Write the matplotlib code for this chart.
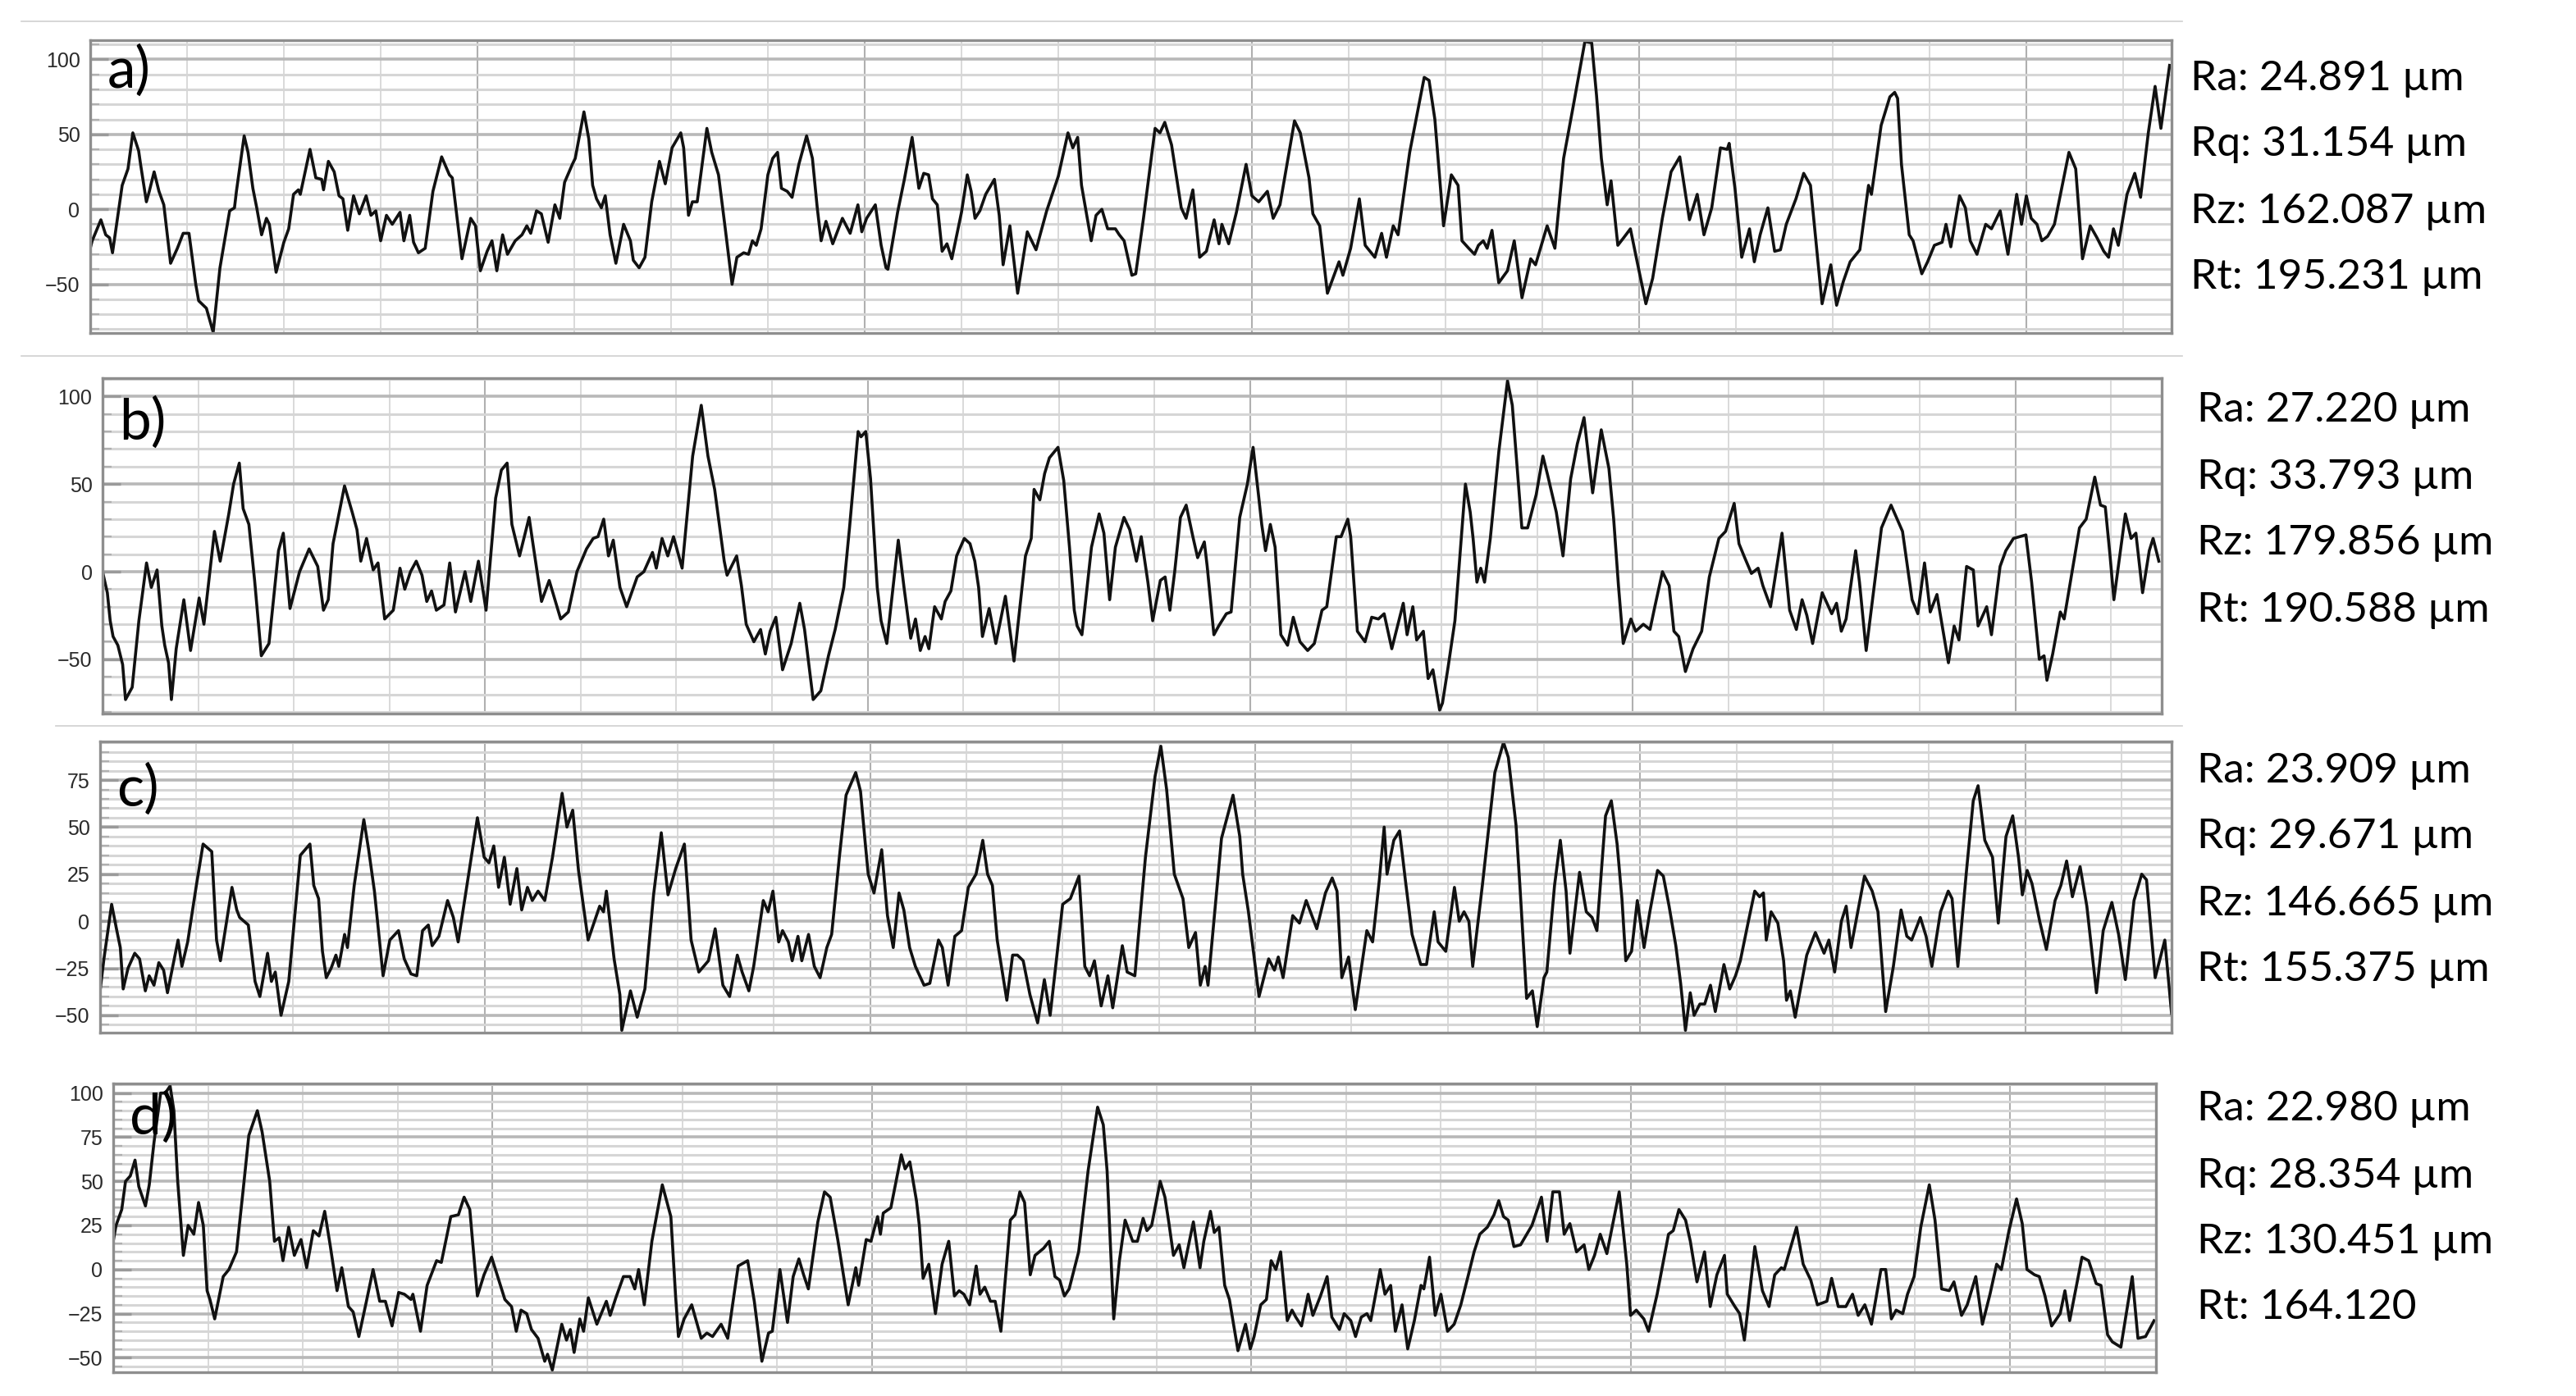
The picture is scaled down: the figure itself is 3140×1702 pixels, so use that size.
import matplotlib
matplotlib.use("Agg")
import matplotlib.pyplot as plt
from matplotlib.lines import Line2D
from matplotlib.ticker import MultipleLocator, NullFormatter

# surface roughness profiles, x in grid divisions, y in micrometres
profile_a = [
    (0.00, -26), (0.02, -21), (0.11, -7), (0.16, -17), (0.20, -19), (0.23, -29), (0.33, 16), (0.39, 27),
    (0.44, 51), (0.50, 39), (0.52, 30), (0.58, 5), (0.61, 12), (0.66, 25), (0.71, 12), (0.76, 3),
    (0.83, -36), (0.90, -26), (0.96, -16), (1.02, -16), (1.09, -50), (1.12, -61), (1.20, -66), (1.27, -82),
    (1.34, -39), (1.44, -1), (1.49, 1), (1.51, 12), (1.59, 49), (1.63, 38), (1.68, 14), (1.72, 1),
    (1.77, -17), (1.82, -6), (1.85, -10), (1.92, -42), (2.00, -22), (2.05, -13), (2.10, 10), (2.15, 13),
    (2.17, 10), (2.27, 40), (2.33, 21), (2.39, 20), (2.41, 13), (2.46, 32), (2.52, 25), (2.57, 9),
    (2.61, 7), (2.66, -14), (2.72, 9), (2.78, -3), (2.85, 9), (2.90, -4), (2.95, -1), (3.00, -21),
    (3.06, -4), (3.12, -10), (3.20, -2), (3.24, -21), (3.30, -4), (3.34, -22), (3.39, -29), (3.46, -26),
    (3.54, 12), (3.63, 35), (3.71, 23), (3.74, 21), (3.84, -33), (3.93, -6), (3.98, -11), (4.03, -41),
    (4.10, -28), (4.15, -21), (4.20, -41), (4.26, -17), (4.31, -30), (4.39, -21), (4.46, -17), (4.51, -11),
    (4.55, -16), (4.61, -1), (4.66, -3), (4.73, -22), (4.80, 3), (4.85, -6), (4.90, 18), (4.98, 30),
    (5.01, 34), (5.10, 65), (5.15, 47), (5.19, 16), (5.23, 7), (5.28, 1), (5.32, 9), (5.37, -17),
    (5.43, -36), (5.51, -10), (5.58, -21), (5.61, -34), (5.67, -39), (5.73, -32), (5.80, 5), (5.88, 32),
    (5.94, 17), (6.01, 41), (6.10, 51), (6.13, 41), (6.18, -4), (6.22, 5), (6.27, 5), (6.37, 54),
    (6.42, 38), (6.49, 23), (6.56, -13), (6.63, -50), (6.68, -32), (6.75, -29), (6.80, -30), (6.84, -21),
    (6.88, -24), (6.93, -13), (7.00, 23), (7.05, 34), (7.10, 38), (7.14, 14), (7.20, 12), (7.25, 8),
    (7.32, 30), (7.40, 49), (7.46, 34), (7.51, 1), (7.55, -21), (7.60, -8), (7.67, -23), (7.77, -6),
    (7.85, -16), (7.93, 3), (7.97, -15), (8.02, -6), (8.11, 3), (8.17, -24), (8.22, -39), (8.24, -40),
    (8.34, -2), (8.41, 20), (8.49, 48), (8.56, 14), (8.61, 24), (8.66, 23), (8.70, 7), (8.75, 3),
    (8.80, -28), (8.85, -23), (8.90, -33), (9.00, -2), (9.06, 23), (9.10, 12), (9.14, -6), (9.19, -1),
    (9.25, 10), (9.34, 20), (9.39, -4), (9.43, -37), (9.50, -11), (9.58, -56), (9.68, -15), (9.77, -27),
    (9.88, -1), (10.00, 22), (10.10, 51), (10.15, 41), (10.20, 48), (10.24, 16), (10.34, -21), (10.39, -4),
    (10.45, 0), (10.51, -13), (10.59, -13), (10.63, -17), (10.68, -21), (10.76, -44), (10.80, -43), (10.88, -6),
    (11.00, 54), (11.05, 51), (11.10, 58), (11.17, 43), (11.27, 1), (11.32, -6), (11.39, 13), (11.46, -32),
    (11.53, -28), (11.61, -7), (11.66, -23), (11.69, -10), (11.76, -23), (11.84, -2), (11.94, 30), (12.00, 9),
    (12.07, 5), (12.16, 12), (12.22, -6), (12.29, 3), (12.44, 59), (12.50, 51), (12.59, 21), (12.63, -3),
    (12.70, -11), (12.78, -56), (12.90, -35), (12.94, -44), (13.02, -26), (13.11, 7), (13.17, -24), (13.27, -32),
    (13.34, -16), (13.39, -32), (13.46, -11), (13.51, -17), (13.63, 38), (13.78, 88), (13.83, 86), (13.89, 60),
    (13.98, -11), (14.06, 23), (14.13, 16), (14.17, -21), (14.24, -26), (14.30, -30), (14.34, -24), (14.39, -21),
    (14.43, -26), (14.48, -14), (14.55, -49), (14.64, -41), (14.71, -21), (14.79, -59), (14.88, -33), (14.93, -37),
    (15.05, -11), (15.13, -26), (15.22, 34), (15.32, 69), (15.39, 94), (15.44, 112), (15.51, 111), (15.56, 76),
    (15.61, 34), (15.67, 3), (15.71, 19), (15.78, -24), (15.84, -19), (15.91, -13), (15.97, -32), (16.07, -63),
    (16.14, -46), (16.24, -6), (16.33, 25), (16.42, 35), (16.52, -7), (16.60, 10), (16.67, -17), (16.75, 1),
    (16.84, 41), (16.91, 40), (16.93, 44), (16.99, 14), (17.06, -32), (17.14, -13), (17.19, -35), (17.25, -17),
    (17.33, 1), (17.40, -28), (17.46, -27), (17.52, -10), (17.62, 7), (17.70, 24), (17.77, 16), (17.89, -63),
    (17.98, -37), (18.04, -64), (18.11, -48), (18.18, -35), (18.28, -27), (18.37, 16), (18.40, 10), (18.50, 56),
    (18.59, 75), (18.64, 78), (18.67, 74), (18.71, 30), (18.79, -17), (18.83, -21), (18.92, -43), (18.98, -35),
    (19.05, -24), (19.13, -22), (19.17, -10), (19.22, -25), (19.31, 9), (19.37, 1), (19.42, -21), (19.49, -30),
    (19.58, -10), (19.64, -13), (19.73, -1), (19.81, -30), (19.90, 10), (19.95, -10), (20.00, 9), (20.05, -6),
    (20.11, -10), (20.16, -21), (20.22, -18), (20.29, -10), (20.44, 38), (20.51, 27), (20.58, -33), (20.66, -11),
    (20.73, -19), (20.80, -28), (20.85, -32), (20.90, -13), (20.95, -24), (21.04, 10), (21.12, 24), (21.18, 8),
    (21.26, 51), (21.33, 82), (21.39, 54), (21.48, 96),
]

profile_b = [
    (0.00, 0), (0.05, -12), (0.08, -28), (0.11, -37), (0.16, -42), (0.21, -53), (0.24, -73), (0.31, -66),
    (0.38, -28), (0.46, 5), (0.51, -9), (0.57, 1), (0.62, -31), (0.65, -42), (0.69, -52), (0.72, -73),
    (0.77, -44), (0.85, -16), (0.92, -45), (1.01, -15), (1.06, -30), (1.17, 23), (1.23, 6), (1.32, 33),
    (1.37, 50), (1.43, 62), (1.47, 36), (1.53, 27), (1.59, -5), (1.66, -48), (1.74, -41), (1.84, 12),
    (1.89, 22), (1.96, -21), (2.06, 0), (2.16, 13), (2.25, 3), (2.31, -22), (2.36, -16), (2.41, 16),
    (2.53, 49), (2.61, 34), (2.66, 24), (2.70, 6), (2.76, 19), (2.83, 1), (2.88, 5), (2.95, -27),
    (3.04, -22), (3.11, 2), (3.16, -10), (3.22, 0), (3.28, 6), (3.34, -2), (3.39, -17), (3.44, -11),
    (3.49, -22), (3.57, -19), (3.63, 5), (3.69, -23), (3.79, 0), (3.85, -17), (3.93, 6), (4.01, -22),
    (4.11, 42), (4.17, 58), (4.23, 62), (4.28, 27), (4.36, 9), (4.46, 31), (4.50, 16), (4.59, -17),
    (4.67, -5), (4.73, -16), (4.79, -27), (4.87, -23), (4.96, 0), (5.06, 13), (5.13, 19), (5.18, 20),
    (5.24, 30), (5.29, 9), (5.34, 18), (5.41, -9), (5.48, -20), (5.59, -3), (5.66, 0), (5.75, 11),
    (5.79, 2), (5.85, 19), (5.91, 9), (5.97, 20), (6.06, 2), (6.17, 66), (6.26, 95), (6.33, 66),
    (6.40, 47), (6.50, 6), (6.53, -2), (6.63, 9), (6.68, -8), (6.73, -30), (6.81, -40), (6.88, -33),
    (6.93, -47), (6.98, -34), (7.04, -26), (7.11, -56), (7.20, -41), (7.29, -18), (7.34, -33), (7.43, -73),
    (7.51, -68), (7.59, -48), (7.66, -33), (7.75, -9), (7.81, 25), (7.90, 80), (7.93, 77), (7.98, 80),
    (8.03, 53), (8.10, -9), (8.14, -28), (8.20, -41), (8.32, 18), (8.38, -9), (8.45, -38), (8.50, -27),
    (8.55, -45), (8.60, -37), (8.64, -44), (8.70, -20), (8.77, -27), (8.81, -17), (8.87, -11), (8.93, 9),
    (9.01, 19), (9.07, 16), (9.12, 6), (9.16, -9), (9.20, -37), (9.27, -21), (9.34, -41), (9.44, -14),
    (9.53, -51), (9.65, 9), (9.71, 19), (9.74, 47), (9.80, 41), (9.85, 56), (9.90, 65), (9.99, 71),
    (10.05, 52), (10.11, 14), (10.16, -22), (10.19, -31), (10.24, -36), (10.34, 14), (10.42, 33), (10.47, 22),
    (10.53, -16), (10.59, 14), (10.68, 31), (10.74, 24), (10.81, 6), (10.86, 20), (10.93, -6), (10.98, -28),
    (11.06, -5), (11.11, -3), (11.16, -22), (11.21, 0), (11.27, 31), (11.33, 38), (11.40, 20), (11.45, 8),
    (11.52, 17), (11.55, 3), (11.62, -36), (11.67, -31), (11.75, -24), (11.80, -23), (11.89, 31), (11.97, 50),
    (12.03, 71), (12.09, 42), (12.12, 27), (12.16, 12), (12.21, 27), (12.26, 14), (12.32, -36), (12.39, -42),
    (12.45, -26), (12.52, -40), (12.60, -45), (12.67, -41), (12.75, -22), (12.80, -20), (12.90, 20), (12.95, 20),
    (13.02, 30), (13.05, 20), (13.12, -34), (13.20, -40), (13.27, -26), (13.34, -27), (13.40, -24), (13.48, -44),
    (13.60, -18), (13.64, -36), (13.70, -20), (13.74, -39), (13.81, -34), (13.86, -61), (13.91, -56), (13.98, -79),
    (14.01, -75), (14.07, -54), (14.14, -28), (14.25, 50), (14.30, 34), (14.33, 19), (14.37, -6), (14.41, 2),
    (14.45, -6), (14.51, 19), (14.60, 69), (14.69, 109), (14.74, 95), (14.80, 53), (14.84, 25), (14.90, 25),
    (14.99, 44), (15.06, 66), (15.11, 55), (15.20, 34), (15.27, 9), (15.35, 53), (15.42, 73), (15.49, 88),
    (15.58, 45), (15.67, 81), (15.75, 59), (15.80, 30), (15.85, -8), (15.90, -41), (15.98, -27), (16.03, -34),
    (16.11, -30), (16.18, -33), (16.23, -20), (16.31, 0), (16.38, -8), (16.43, -34), (16.48, -37), (16.55, -57),
    (16.63, -44), (16.72, -34), (16.80, -3), (16.90, 19), (16.97, 23), (17.06, 39), (17.11, 16), (17.17, 8),
    (17.24, -1), (17.31, 2), (17.36, -8), (17.44, -20), (17.56, 22), (17.64, -22), (17.71, -33), (17.77, -16),
    (17.82, -25), (17.88, -41), (17.98, -12), (18.08, -24), (18.13, -18), (18.18, -34), (18.23, -27), (18.33, 12),
    (18.37, -6), (18.44, -45), (18.60, 25), (18.70, 38), (18.82, 23), (18.92, -16), (18.98, -24), (19.05, 5),
    (19.11, -23), (19.18, -13), (19.30, -52), (19.36, -31), (19.41, -39), (19.49, 3), (19.56, 1), (19.61, -31),
    (19.70, -20), (19.75, -36), (19.84, 3), (19.90, 12), (19.98, 19), (20.11, 21), (20.17, -6), (20.25, -50),
    (20.30, -48), (20.33, -62), (20.39, -47), (20.47, -23), (20.51, -27), (20.59, -1), (20.67, 25), (20.74, 30),
    (20.83, 54), (20.89, 38), (20.94, 37), (20.99, 9), (21.03, -16), (21.15, 33), (21.21, 19), (21.26, 22),
    (21.33, -12), (21.40, 12), (21.44, 19), (21.50, 6),
]

profile_c = [
    (0.00, -37), (0.04, -20), (0.12, 9), (0.17, -4), (0.21, -14), (0.24, -36), (0.29, -25), (0.36, -17),
    (0.41, -20), (0.47, -37), (0.51, -29), (0.56, -34), (0.61, -22), (0.66, -26), (0.70, -38), (0.81, -10),
    (0.85, -24), (0.91, -11), (1.00, 19), (1.07, 41), (1.16, 37), (1.21, -10), (1.25, -21), (1.37, 18),
    (1.42, 6), (1.45, 2), (1.54, -2), (1.61, -32), (1.66, -40), (1.74, -17), (1.78, -32), (1.82, -27),
    (1.88, -50), (1.96, -32), (2.08, 35), (2.18, 41), (2.22, 19), (2.27, 12), (2.31, -16), (2.35, -30),
    (2.40, -25), (2.45, -18), (2.48, -24), (2.54, -7), (2.57, -14), (2.64, 19), (2.74, 54), (2.79, 38),
    (2.85, 16), (2.94, -29), (3.01, -10), (3.10, -5), (3.16, -20), (3.23, -28), (3.29, -29), (3.35, -5),
    (3.41, -2), (3.45, -13), (3.52, -8), (3.61, 11), (3.67, 2), (3.72, -11), (3.79, 12), (3.92, 55),
    (3.99, 34), (4.04, 31), (4.09, 40), (4.14, 18), (4.20, 34), (4.26, 9), (4.33, 28), (4.38, 6),
    (4.44, 18), (4.49, 11), (4.55, 16), (4.62, 11), (4.70, 34), (4.80, 68), (4.85, 50), (4.91, 59),
    (4.97, 27), (5.07, -10), (5.19, 8), (5.23, 5), (5.26, 16), (5.34, -20), (5.40, -39), (5.42, -58),
    (5.51, -37), (5.58, -51), (5.66, -36), (5.75, 14), (5.83, 47), (5.90, 14), (5.98, 28), (6.07, 41),
    (6.14, -10), (6.22, -27), (6.32, -21), (6.39, -4), (6.47, -34), (6.54, -40), (6.62, -18), (6.67, -27),
    (6.74, -37), (6.79, -24), (6.89, 11), (6.94, 5), (6.99, 16), (7.05, -11), (7.09, -5), (7.15, -11),
    (7.19, -21), (7.25, -8), (7.29, -21), (7.36, -7), (7.42, -24), (7.48, -30), (7.55, -14), (7.60, -7),
    (7.68, 34), (7.75, 67), (7.85, 79), (7.90, 69), (7.95, 41), (7.98, 25), (8.04, 15), (8.12, 38),
    (8.18, 3), (8.24, -14), (8.30, 15), (8.35, 6), (8.41, -14), (8.47, -24), (8.56, -34), (8.62, -33),
    (8.71, -10), (8.75, -14), (8.81, -34), (8.88, -8), (8.95, -5), (9.02, 18), (9.10, 25), (9.17, 43),
    (9.22, 25), (9.27, 19), (9.32, -10), (9.42, -42), (9.48, -18), (9.53, -18), (9.59, -21), (9.66, -39),
    (9.74, -54), (9.81, -31), (9.87, -50), (10.00, 9), (10.08, 12), (10.17, 24), (10.23, -24), (10.28, -29),
    (10.33, -21), (10.40, -45), (10.47, -29), (10.52, -46), (10.62, -13), (10.67, -27), (10.75, -29), (10.86, 34),
    (10.96, 77), (11.02, 93), (11.08, 70), (11.16, 25), (11.25, 12), (11.31, -14), (11.38, -6), (11.43, -34),
    (11.48, -24), (11.51, -34), (11.65, 44), (11.77, 67), (11.84, 45), (11.87, 25), (11.93, 5), (12.04, -40),
    (12.14, -20), (12.20, -26), (12.24, -19), (12.29, -30), (12.39, 3), (12.46, -1), (12.53, 11), (12.64, -4),
    (12.73, 15), (12.80, 23), (12.85, 16), (12.90, -30), (12.97, -19), (13.04, -47), (13.16, -5), (13.22, -11),
    (13.29, 22), (13.34, 50), (13.37, 25), (13.44, 43), (13.50, 48), (13.56, 22), (13.63, -7), (13.72, -23),
    (13.78, -23), (13.86, 5), (13.90, -11), (13.98, -16), (14.07, 18), (14.12, 0), (14.17, 5), (14.22, 0),
    (14.26, -24), (14.36, 19), (14.49, 79), (14.58, 95), (14.63, 87), (14.71, 51), (14.75, 19), (14.82, -41),
    (14.88, -37), (14.93, -56), (15.00, -30), (15.03, -27), (15.11, 19), (15.17, 43), (15.23, 16), (15.27, -17),
    (15.37, 26), (15.44, 5), (15.50, 2), (15.55, -5), (15.64, 56), (15.70, 64), (15.76, 41), (15.81, 12),
    (15.85, -21), (15.91, -16), (15.97, 11), (16.04, -14), (16.10, 5), (16.18, 27), (16.24, 24), (16.30, 8),
    (16.37, -13), (16.42, -33), (16.47, -58), (16.52, -38), (16.56, -50), (16.62, -44), (16.67, -44), (16.73, -34),
    (16.78, -48), (16.87, -23), (16.93, -36), (16.99, -29), (17.04, -21), (17.12, -1), (17.19, 16), (17.24, 13),
    (17.28, 15), (17.31, -10), (17.36, 5), (17.43, -1), (17.49, -21), (17.52, -42), (17.56, -37), (17.61, -51),
    (17.73, -18), (17.82, -6), (17.91, -17), (17.96, -10), (18.02, -27), (18.09, 0), (18.14, 8), (18.19, -14),
    (18.26, 5), (18.33, 24), (18.41, 16), (18.47, 5), (18.55, -48), (18.63, -24), (18.71, 6), (18.77, -8),
    (18.82, -10), (18.91, 2), (18.97, -8), (19.03, -24), (19.12, 5), (19.20, 16), (19.24, 12), (19.30, -24),
    (19.39, 27), (19.46, 64), (19.51, 72), (19.58, 43), (19.66, 34), (19.72, -1), (19.80, 45), (19.87, 56),
    (19.93, 34), (19.97, 14), (20.02, 27), (20.07, 20), (20.15, 0), (20.22, -15), (20.31, 11), (20.37, 19),
    (20.43, 32), (20.49, 13), (20.57, 29), (20.64, 8), (20.74, -38), (20.81, -5), (20.90, 10), (20.97, -7),
    (21.04, -31), (21.13, 11), (21.21, 25), (21.26, 22), (21.35, -30), (21.45, -10), (21.52, -49),
]

profile_d = [
    (0.00, 16), (0.03, 25), (0.09, 34), (0.13, 50), (0.18, 53), (0.23, 62), (0.27, 47), (0.34, 36),
    (0.38, 48), (0.43, 72), (0.50, 100), (0.55, 100), (0.60, 104), (0.64, 90), (0.68, 50), (0.74, 8),
    (0.79, 25), (0.85, 20), (0.90, 38), (0.95, 25), (0.99, -12), (1.02, -17), (1.07, -28), (1.16, -4),
    (1.22, 0), (1.30, 10), (1.37, 45), (1.43, 76), (1.52, 90), (1.57, 78), (1.65, 50), (1.70, 16),
    (1.75, 18), (1.79, 5), (1.85, 24), (1.91, 8), (1.98, 17), (2.04, 1), (2.11, 22), (2.17, 19),
    (2.23, 33), (2.29, 13), (2.36, -12), (2.41, 1), (2.48, -21), (2.53, -24), (2.59, -38), (2.67, -18),
    (2.74, 0), (2.81, -18), (2.87, -18), (2.94, -32), (3.01, -13), (3.07, -14), (3.14, -17), (3.16, -14),
    (3.24, -35), (3.31, -9), (3.41, 5), (3.46, 4), (3.56, 30), (3.64, 31), (3.70, 41), (3.76, 34),
    (3.84, -15), (3.91, -3), (3.99, 7), (4.06, -5), (4.13, -17), (4.20, -21), (4.25, -35), (4.30, -23),
    (4.36, -25), (4.41, -34), (4.48, -39), (4.55, -52), (4.58, -48), (4.63, -57), (4.73, -31), (4.78, -40),
    (4.82, -34), (4.86, -47), (4.92, -28), (4.96, -35), (5.01, -16), (5.10, -31), (5.20, -18), (5.24, -26),
    (5.30, -16), (5.38, -4), (5.45, -4), (5.50, -11), (5.54, 0), (5.60, -20), (5.68, 16), (5.79, 48),
    (5.88, 30), (5.93, -15), (5.96, -38), (6.02, -28), (6.10, -20), (6.20, -39), (6.26, -36), (6.32, -38),
    (6.41, -31), (6.48, -39), (6.59, 2), (6.69, 5), (6.76, -18), (6.84, -52), (6.91, -36), (6.95, -35),
    (7.03, 0), (7.11, -30), (7.17, -4), (7.23, 6), (7.28, -3), (7.33, -11), (7.43, 27), (7.50, 44),
    (7.56, 41), (7.64, 17), (7.75, -20), (7.83, 1), (7.86, -9), (7.94, 17), (7.99, 16), (8.06, 30),
    (8.09, 20), (8.12, 32), (8.20, 35), (8.31, 65), (8.35, 57), (8.40, 61), (8.47, 39), (8.50, 25),
    (8.54, -5), (8.60, 3), (8.67, -25), (8.74, 3), (8.81, 16), (8.87, -15), (8.92, -12), (8.97, -14),
    (9.03, -20), (9.10, 2), (9.14, -14), (9.19, -10), (9.25, -18), (9.30, -18), (9.36, -35), (9.46, 28),
    (9.51, 31), (9.56, 44), (9.61, 38), (9.67, -3), (9.72, 8), (9.81, 12), (9.87, 16), (9.93, -4),
    (9.98, -6), (10.03, -15), (10.08, -11), (10.18, 10), (10.28, 56), (10.38, 92), (10.44, 82), (10.48, 56),
    (10.55, -28), (10.61, 5), (10.67, 28), (10.75, 16), (10.80, 16), (10.86, 29), (10.90, 22), (10.95, 25),
    (11.04, 50), (11.09, 41), (11.13, 27), (11.18, 8), (11.24, 14), (11.29, 1), (11.39, 27), (11.46, 1),
    (11.50, 16), (11.57, 33), (11.61, 21), (11.66, 24), (11.72, -9), (11.77, -17), (11.86, -46), (11.94, -31),
    (11.99, -45), (12.03, -38), (12.10, -20), (12.16, -17), (12.21, 5), (12.26, 0), (12.31, 10), (12.38, -29),
    (12.43, -23), (12.47, -27), (12.53, -32), (12.60, -14), (12.65, -26), (12.73, -15), (12.80, -4), (12.85, -27),
    (12.93, -34), (12.98, -25), (13.05, -29), (13.10, -38), (13.16, -27), (13.22, -25), (13.26, -29), (13.36, 0),
    (13.41, -14), (13.47, -9), (13.52, -35), (13.59, -20), (13.65, -45), (13.72, -29), (13.79, -9), (13.82, -11),
    (13.88, 7), (13.94, -26), (14.00, -14), (14.07, -35), (14.14, -31), (14.21, -20), (14.29, -3), (14.35, 10),
    (14.41, 20), (14.49, 24), (14.56, 31), (14.61, 39), (14.66, 30), (14.71, 28), (14.77, 13), (14.84, 14),
    (14.96, 25), (15.06, 41), (15.12, 16), (15.18, 44), (15.25, 44), (15.30, 20), (15.36, 26), (15.43, 10),
    (15.51, 14), (15.56, 0), (15.62, 8), (15.68, 20), (15.75, 9), (15.88, 44), (15.96, 3), (16.00, -26),
    (16.06, -23), (16.14, -28), (16.19, -35), (16.28, -14), (16.40, 20), (16.45, 22), (16.51, 34), (16.58, 28),
    (16.63, 16), (16.70, -7), (16.78, 10), (16.84, -21), (16.91, -3), (16.99, 8), (17.02, -14), (17.10, -21),
    (17.15, -25), (17.20, -40), (17.31, 13), (17.39, -12), (17.46, -21), (17.52, -3), (17.59, 1), (17.62, 0),
    (17.75, 24), (17.82, 3), (17.90, -6), (17.97, -20), (18.07, -18), (18.12, -5), (18.19, -21), (18.27, -21),
    (18.34, -14), (18.40, -26), (18.47, -20), (18.54, -31), (18.64, 0), (18.69, 0), (18.75, -28), (18.80, -23),
    (18.87, -25), (18.92, -14), (18.99, -4), (19.06, 24), (19.15, 48), (19.21, 28), (19.28, -11), (19.36, -12),
    (19.41, -7), (19.49, -26), (19.55, -20), (19.64, -4), (19.71, -31), (19.79, -14), (19.86, 3), (19.91, 0),
    (19.99, 22), (20.07, 40), (20.13, 26), (20.18, 0), (20.26, -3), (20.31, -4), (20.37, -15), (20.44, -32),
    (20.53, -25), (20.58, -12), (20.63, -29), (20.76, 7), (20.83, 5), (20.91, -8), (20.96, -9), (21.03, -37),
    (21.08, -41), (21.17, -44), (21.29, -4), (21.35, -39), (21.43, -38), (21.48, -33), (21.52, -29),
]

panel_labels = ["a)", "b)", "c)", "d)"]

stats_a = ["Ra: 24.891 µm", "Rq: 31.154 µm", "Rz: 162.087 µm", "Rt: 195.231 µm"]
stats_b = ["Ra: 27.220 µm", "Rq: 33.793 µm", "Rz: 179.856 µm", "Rt: 190.588 µm"]
stats_c = ["Ra: 23.909 µm", "Rq: 29.671 µm", "Rz: 146.665 µm", "Rt: 155.375 µm"]
stats_d = ["Ra: 22.980 µm", "Rq: 28.354 µm", "Rz: 130.451 µm", "Rt: 164.120"]

# axis ranges
y_limits = [(-82.5, 112.8), (-81, 110.5), (-59.2, 95.5), (-58.2, 105.4)]
x_limits = [21.50, 21.53, 21.52, 21.54]
y_major = [50, 50, 25, 25]
y_minor = [10, 10, 5, 5]

W, H = 3140, 1702
# panel boxes in pixels: left, top, right, bottom
boxes = [(110, 49, 2647, 406), (125, 461, 2635, 870), (122, 904, 2647, 1259), (138, 1321, 2628, 1673)]
label_y = [0.985, 0.945, 0.925, 0.975]
stat_x = [2670, 2678, 2678, 2678]
stat_y = [[96, 176, 258, 338], [500, 582, 662, 744], [940, 1020, 1102, 1182], [1352, 1434, 1514, 1594]]
sep_lines = [(26, 26, 2660), (434, 26, 2660), (885, 68, 2660)]

profiles = [profile_a, profile_b, profile_c, profile_d]
stats = [stats_a, stats_b, stats_c, stats_d]

fig = plt.figure(figsize=(W / 100, H / 100), dpi=100)
fig.patch.set_facecolor("white")

for i, prof in enumerate(profiles):
    l, t, r, b = boxes[i]
    ax = fig.add_axes([l / W, 1 - b / H, (r - l) / W, (b - t) / H])
    xs, ys = zip(*prof)

    ax.set_xlim(0, x_limits[i])
    ax.set_ylim(*y_limits[i])

    ax.xaxis.set_major_locator(MultipleLocator(4))
    ax.xaxis.set_minor_locator(MultipleLocator(1))
    ax.xaxis.set_major_formatter(NullFormatter())
    ax.yaxis.set_major_locator(MultipleLocator(y_major[i]))
    ax.yaxis.set_minor_locator(MultipleLocator(y_minor[i]))

    ax.grid(which="minor", axis="y", color="#d6d6d6", lw=2.2)
    ax.grid(which="major", axis="y", color="#b8b8b8", lw=2.6)
    ax.grid(which="minor", axis="x", color="#d0d0d0", lw=1.1)
    ax.grid(which="major", axis="x", color="#b0b0b0", lw=1.5)
    ax.set_axisbelow(True)

    ax.tick_params(axis="x", which="both", length=0)
    ax.tick_params(axis="y", which="major", direction="in", length=16, width=2.4,
                   color="#9a9a9a", pad=9, labelsize=18, labelcolor="#2a2a2a")
    ax.tick_params(axis="y", which="minor", direction="in", length=8, width=1.6, color="#b0b0b0")
    for lab in ax.get_yticklabels():
        lab.set_family("Liberation Sans")

    for sp in ax.spines.values():
        sp.set_color("#8e8e8e")
        sp.set_linewidth(2.4)

    ax.plot(xs, ys, color="#111111", lw=2.6, solid_joinstyle="round")

    ax.text(0.008, label_y[i], panel_labels[i], transform=ax.transAxes,
            ha="left", va="top", fontsize=50, family="Lato", color="black")

    for j, s in enumerate(stats[i]):
        fig.text(stat_x[i] / W, 1 - stat_y[i][j] / H, s, ha="left", va="center",
                 fontsize=37, family="Lato", color="black")

# thin frames left from the stacked screenshots
for y, x0, x1 in sep_lines:
    fig.add_artist(Line2D([x0 / W, x1 / W], [1 - y / H, 1 - y / H], color="#cfcfcf", lw=1.2))

fig.savefig("out.png", dpi=100, facecolor="white")
